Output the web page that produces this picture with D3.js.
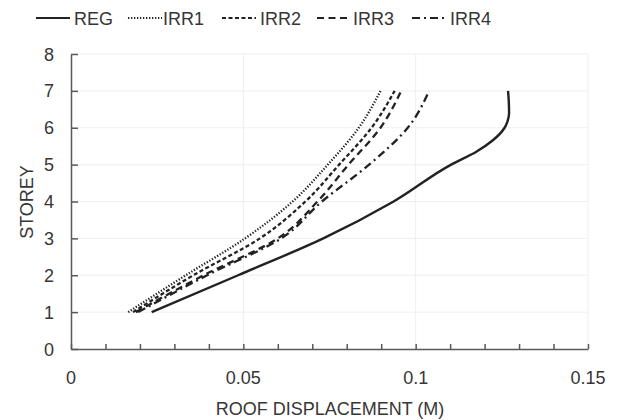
<!DOCTYPE html>
<html>
<head>
<meta charset="utf-8">
<script src="https://cdn.jsdelivr.net/npm/d3@7"></script>
<style>
  body { margin: 0; background: #fff; }
  svg { font-family: "Liberation Sans", Arial, sans-serif; }
</style>
</head>
<body>
<svg id="chart" width="620" height="420"></svg>
<script>
// Data
const storeys = [1, 2, 3, 4, 5, 6, 7];
const irr1 = [0.0166, 0.0333, 0.0505, 0.0643, 0.0745, 0.0835, 0.0898];
const irr2 = [0.0180, 0.0355, 0.0548, 0.0680, 0.0778, 0.0872, 0.0939];
const irr3 = [0.0188, 0.0385, 0.0600, 0.0715, 0.0805, 0.0898, 0.0958];
const irr4 = [0.0195, 0.0395, 0.0610, 0.0728, 0.0865, 0.0977, 0.1039];
// REG has a sharp bend near the top, so a few extra points there
const regStoreys = [1, 2, 3, 4, 5, 5.35, 5.66, 6, 6.16, 6.39, 6.75, 7];
const reg = [0.0234, 0.0485, 0.0732, 0.0936, 0.1103, 0.1176, 0.1224, 0.1258, 0.1266, 0.1271, 0.1270, 0.1268];

const seriesNames = ["REG", "IRR1", "IRR2", "IRR3", "IRR4"];
const xTicks = [0, 0.05, 0.1, 0.15];
const xTickLabels = ["0", "0.05", "0.1", "0.15"];
const yTicks = [0, 1, 2, 3, 4, 5, 6, 7, 8];

const dashes = {
  REG: null,
  IRR1: "1.3,1.7",
  IRR2: "4,2.5",
  IRR3: "7,4.5",
  IRR4: "8,4,2,4"
};

const series = [
  { name: "REG", pts: reg.map((v, i) => [v, regStoreys[i]]) },
  { name: "IRR1", pts: irr1.map((v, i) => [v, storeys[i]]) },
  { name: "IRR2", pts: irr2.map((v, i) => [v, storeys[i]]) },
  { name: "IRR3", pts: irr3.map((v, i) => [v, storeys[i]]) },
  { name: "IRR4", pts: irr4.map((v, i) => [v, storeys[i]]) }
];

const svg = d3.select("#chart");
const x = d3.scaleLinear().domain([0, 0.15]).range([71, 588]);
const y = d3.scaleLinear().domain([0, 8]).range([349, 54]);

const textColor = "#363636";
const axisColor = "#595959";
const lineColor = "#222";

// gridlines
svg.append("g").selectAll("line").data(yTicks.slice(1)).join("line")
  .attr("x1", x(0)).attr("x2", x(0.15))
  .attr("y1", d => y(d)).attr("y2", d => y(d))
  .attr("stroke", "#efefef").attr("stroke-width", 1);
svg.append("g").selectAll("line").data(xTicks.slice(1)).join("line")
  .attr("x1", d => x(d)).attr("x2", d => x(d))
  .attr("y1", y(0)).attr("y2", y(8))
  .attr("stroke", "#efefef").attr("stroke-width", 1);

// x axis (ticks every 0.01, pointing up)
const xAxis = d3.axisBottom(x)
  .tickValues(d3.range(0, 0.1501, 0.01))
  .tickSizeInner(-5).tickSizeOuter(0)
  .tickFormat("");
svg.append("g").attr("transform", `translate(0,${y(0)})`).call(xAxis)
  .call(g => g.selectAll("line, path").attr("stroke", axisColor).attr("stroke-width", 1.5));

// y axis (ticks pointing in)
const yAxis = d3.axisLeft(y).tickValues(yTicks)
  .tickSizeInner(-7).tickSizeOuter(0).tickFormat("");
svg.append("g").attr("transform", `translate(${x(0)},0)`).call(yAxis)
  .call(g => g.selectAll("line, path").attr("stroke", axisColor).attr("stroke-width", 1.5));

// tick labels
svg.append("g").selectAll("text").data(xTicks).join("text")
  .attr("x", d => x(d)).attr("y", 384)
  .attr("text-anchor", "middle")
  .attr("font-size", 18).attr("fill", textColor)
  .text((d, i) => xTickLabels[i]);
svg.append("g").selectAll("text").data(yTicks).join("text")
  .attr("x", 54).attr("y", d => y(d) + 6.5)
  .attr("text-anchor", "end")
  .attr("font-size", 18).attr("fill", textColor)
  .text(d => d);

// axis titles
svg.append("text")
  .attr("x", 330).attr("y", 415)
  .attr("text-anchor", "middle")
  .attr("font-size", 18).attr("fill", textColor)
  .text("ROOF DISPLACEMENT (M)");
svg.append("text")
  .attr("transform", "translate(33,202) rotate(-90)")
  .attr("text-anchor", "middle")
  .attr("font-size", 18).attr("fill", textColor)
  .text("STOREY");

// curves
const line = d3.line()
  .x(d => x(d[0])).y(d => y(d[1]))
  .curve(d3.curveMonotoneY);

svg.append("g").selectAll("path").data(series).join("path")
  .attr("d", d => line(d.pts))
  .attr("fill", "none")
  .attr("stroke", lineColor)
  .attr("stroke-width", d => d.name === "REG" ? 2.4 : 2.3)
  .attr("stroke-dasharray", d => dashes[d.name]);

// legend
const legendX = [36, 128, 222, 317, 412];
const legendTextX = [74, 163, 260, 353, 450];
const leg = svg.append("g");
seriesNames.forEach((name, i) => {
  leg.append("line")
    .attr("x1", legendX[i]).attr("x2", legendX[i] + 34)
    .attr("y1", 18).attr("y2", 18)
    .attr("stroke", lineColor).attr("stroke-width", 2)
    .attr("stroke-dasharray", dashes[name]);
  leg.append("text")
    .attr("x", legendTextX[i]).attr("y", 24.5)
    .attr("font-size", 18).attr("fill", textColor)
    .text(name);
});
</script>
</body>
</html>
